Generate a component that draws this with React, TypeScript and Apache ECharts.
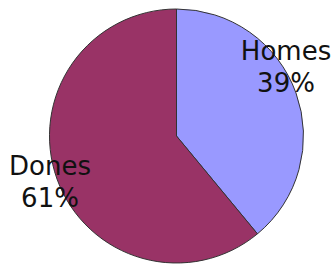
import React, { useEffect, useRef } from "react";
import * as echarts from "echarts";

const categories = ["Homes", "Dones"];
const values = [39, 61];
const colors = ["#9999FF", "#993366"];
const labelCenters = [
  [286, 67],
  [50, 182],
];

export default function App() {
  const ref = useRef<HTMLDivElement>(null);
  useEffect(() => {
    const chart = echarts.init(ref.current!, null, { renderer: "svg" });
    chart.setOption({
      animation: false,
      backgroundColor: "#ffffff",
      series: [
        {
          type: "pie",
          center: [176.5, 136],
          radius: [0, 127],
          startAngle: 90,
          clockwise: true,
          data: categories.map((c, i) => ({
            name: c,
            value: values[i],
            itemStyle: { color: colors[i] },
          })),
          itemStyle: { borderColor: "#333333", borderWidth: 1 },
          label: {
            show: true,
            position: "inside",
            formatter: "{b}\n{d}%",
            fontFamily: "DejaVu Sans, Verdana, sans-serif",
            fontSize: 26,
            lineHeight: 32,
            color: "#111111",
            align: "center",
          },
          labelLine: { show: false },
          labelLayout: (p: any) => ({
            x: labelCenters[p.dataIndex][0],
            y: labelCenters[p.dataIndex][1],
            align: "center",
            verticalAlign: "middle",
          }),
          emphasis: { disabled: true },
        },
      ],
    });
    return () => chart.dispose();
  }, []);
  return (
    <div
      ref={ref}
      style={{ position: "fixed", left: 0, top: 0, width: 336, height: 265 }}
    />
  );
}
